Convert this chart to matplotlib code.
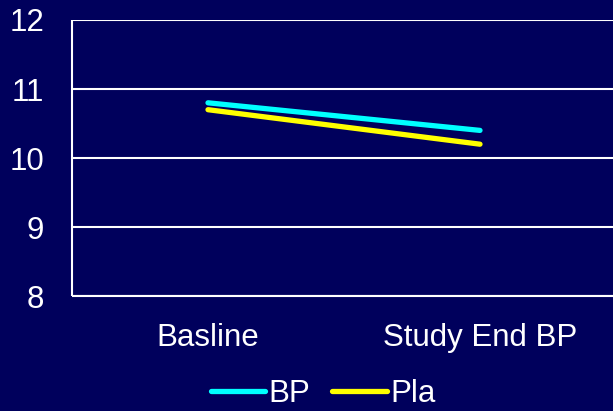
import matplotlib
matplotlib.use('Agg')
import matplotlib.pyplot as plt

categories = ['Basline', 'Study End BP']
bp = [10.8, 10.4]
pla = [10.7, 10.2]
yticks = [8, 9, 10, 11, 12]

bg = '#00005C'
plt.rcParams['font.family'] = ['Liberation Sans', 'DejaVu Sans']

fig = plt.figure(figsize=(6.13, 4.11), dpi=100, facecolor=bg)
ax = fig.add_axes([72/613, 115/411, 544/613, 276/411], facecolor=bg)

x = range(len(categories))
ax.plot(x, bp, color='#00FFFF', lw=3.8, solid_capstyle='round', label='BP')
ax.plot(x, pla, color='#FFFF00', lw=3.8, solid_capstyle='round', label='Pla')

ax.set_xlim(-0.5, 1.5)
ax.set_ylim(8, 12)
ax.set_yticks(yticks)
ax.set_xticks(list(x))
ax.set_xticklabels(categories)
ax.yaxis.grid(True, color='white', lw=1.5)
ax.set_axisbelow(True)
for side in ['top', 'right']:
    ax.spines[side].set_visible(False)
for side in ['left', 'bottom']:
    ax.spines[side].set_color('white')
    ax.spines[side].set_linewidth(1.5)
    ax.spines[side].set_capstyle('butt')
ax.tick_params(axis='both', colors='white', labelsize=22.5, length=0)
ax.tick_params(axis='y', pad=20)
ax.tick_params(axis='x', pad=19.5)

# legend sits in the strip under the x labels
fig.legend(loc='center', bbox_to_anchor=(323/613, 1 - 394/411), ncol=2,
           frameon=False, fontsize=22.5, labelcolor='white', handlelength=1.75,
           handletextpad=0.1, columnspacing=0.7, borderpad=0.1)

fig.savefig('out.png', dpi=100, facecolor=bg)
